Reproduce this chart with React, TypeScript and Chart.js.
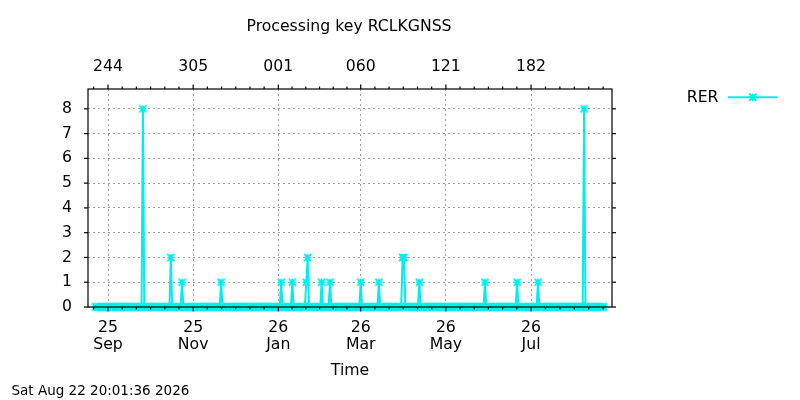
import React, { useEffect, useRef } from 'react';
import { Chart, registerables } from 'chart.js';

Chart.register(...registerables);

// ---- data ----
const titleText = 'Processing key RCLKGNSS';
const seriesLabel = 'RER';
const xAxisTitle = 'Time';
const stampText = 'Sat Aug 22 20:01:36 2026';

const firstDay = '2025-08-23';
const lastDay = '2026-08-22';
const eventDates = [
  '2025-09-26', '2025-10-16', '2025-10-24', '2025-11-21',
  '2026-01-03', '2026-01-11', '2026-01-21', '2026-01-22',
  '2026-02-01', '2026-02-07', '2026-03-01', '2026-03-14',
  '2026-03-31', '2026-04-01', '2026-04-12', '2026-05-29',
  '2026-06-21', '2026-07-06', '2026-08-08',
];
const eventValues = [8, 2, 1, 1, 1, 1, 1, 2, 1, 1, 1, 1, 2, 2, 1, 1, 1, 1, 8];

const axisStart = '2025-08-17T16:00:00Z';
const axisEnd = '2026-08-28T00:00:00Z';
const tickDates = ['2025-09-01', '2025-11-01', '2026-01-01', '2026-03-01', '2026-05-01', '2026-07-01'];
const bottomTickLabels = [['25', 'Sep'], ['25', 'Nov'], ['26', 'Jan'], ['26', 'Mar'], ['26', 'May'], ['26', 'Jul']];
const topTickLabels = ['244', '305', '001', '060', '121', '182'];
const minorAnchorDates = ['2025-07-01', ...tickDates, '2026-09-01'];
const yTickValues = [0, 1, 2, 3, 4, 5, 6, 7, 8];
const yMax = 8.8;

// ---- styles ----
const CYAN = '#00eeee';
const FONT = 'DejaVu Sans';

const toMs = (d: string) => Date.parse(d.length === 10 ? d + 'T00:00:00Z' : d);
const DAY = 86400000;

function buildSeries() {
  const ev = new Map<number, number>();
  eventDates.forEach((d, i) => ev.set(toMs(d), eventValues[i]));
  const pts: { x: number; y: number }[] = [];
  for (let t = toMs(firstDay); t <= toMs(lastDay); t += DAY) {
    pts.push({ x: t, y: ev.has(t) ? (ev.get(t) as number) : 0 });
  }
  return pts;
}

// gnuplot-like "+ and x" star marker filling a square
function drawStar(ctx: CanvasRenderingContext2D, x: number, y: number, r: number) {
  ctx.beginPath();
  ctx.moveTo(x - r, y); ctx.lineTo(x + r, y);
  ctx.moveTo(x, y - r); ctx.lineTo(x, y + r);
  ctx.moveTo(x - r, y - r); ctx.lineTo(x + r, y + r);
  ctx.moveTo(x - r, y + r); ctx.lineTo(x + r, y - r);
  ctx.stroke();
}

function makeMarker() {
  const c = document.createElement('canvas');
  c.width = 11;
  c.height = 11;
  const g = c.getContext('2d') as CanvasRenderingContext2D;
  g.strokeStyle = CYAN;
  g.lineWidth = 1.7;
  drawStar(g, 5.5, 5.5, 3.6);
  return c;
}

const decorPlugin = {
  id: 'decor',
  afterDatasetsDraw(chart: any) {
    const { ctx, chartArea: a, scales } = chart;
    const xs = scales.x;
    const ys = scales.y;
    ctx.save();
    ctx.strokeStyle = '#000';
    ctx.lineWidth = 1.2;
    const seg = (x1: number, y1: number, x2: number, y2: number) => {
      ctx.beginPath(); ctx.moveTo(x1, y1); ctx.lineTo(x2, y2); ctx.stroke();
    };
    ctx.strokeRect(a.left, a.top, a.right - a.left, a.bottom - a.top);
    yTickValues.forEach((v) => {
      const py = ys.getPixelForValue(v);
      seg(a.left - 4, py, a.left, py);
      seg(a.right, py, a.right + 4, py);
    });
    tickDates.forEach((d) => {
      const px = xs.getPixelForValue(toMs(d));
      seg(px, a.bottom, px, a.bottom + 4.5);
      seg(px, a.top - 4.5, px, a.top);
    });
    for (let i = 0; i < minorAnchorDates.length - 1; i++) {
      const t0 = toMs(minorAnchorDates[i]);
      const t1 = toMs(minorAnchorDates[i + 1]);
      for (let j = 1; j < 6; j++) {
        const t = t0 + ((t1 - t0) * j) / 6;
        if (t <= xs.min || t >= xs.max) continue;
        const px = xs.getPixelForValue(t);
        seg(px, a.bottom, px, a.bottom + 2.5);
        seg(px, a.top - 2.5, px, a.top);
      }
    }
    // texts
    ctx.fillStyle = '#000';
    ctx.textBaseline = 'alphabetic';
    ctx.font = `15.7px "${FONT}"`;
    ctx.textAlign = 'center';
    ctx.fillText(titleText, (a.left + a.right) / 2 - 1, 30.5);
    ctx.fillText(xAxisTitle, (a.left + a.right) / 2, 375);
    ctx.textAlign = 'right';
    ctx.fillText(seriesLabel, 718.5, 101.7);
    ctx.textAlign = 'left';
    ctx.font = `13.5px "${FONT}"`;
    ctx.fillText(stampText, 11.5, 394.5);
    // legend sample
    ctx.strokeStyle = CYAN;
    ctx.lineWidth = 2;
    seg(728, 97.3, 777.5, 97.3);
    ctx.lineWidth = 1.7;
    drawStar(ctx, 752.7, 97.3, 3.6);
    ctx.restore();
  },
};

export default function App() {
  const ref = useRef<HTMLCanvasElement>(null);
  useEffect(() => {
    const tickVals = tickDates.map(toMs);
    const marker = makeMarker();
    const chart = new Chart(ref.current as HTMLCanvasElement, {
      type: 'line',
      data: {
        datasets: [
          {
            label: seriesLabel,
            data: buildSeries(),
            borderColor: CYAN,
            backgroundColor: CYAN,
            borderWidth: 2,
            pointStyle: marker,
            pointRadius: 4,
            pointBorderWidth: 0,
            tension: 0,
            clip: false,
          } as any,
        ],
      },
      options: {
        responsive: false,
        animation: false,
        events: [],
        layout: { padding: { left: 0, right: 188, top: 0, bottom: 0 } },
        plugins: { legend: { display: false }, tooltip: { enabled: false }, title: { display: false } },
        scales: {
          x: {
            type: 'linear',
            position: 'bottom',
            min: toMs(axisStart),
            max: toMs(axisEnd),
            afterBuildTicks: (s: any) => { s.ticks = tickVals.map((v) => ({ value: v })); },
            afterFit: (s: any) => { s.height = 93; },
            ticks: {
              autoSkip: false,
              maxRotation: 0,
              minRotation: 0,
              padding: 12.5,
              color: '#000',
              font: { family: FONT, size: 15.7, lineHeight: 1.08 },
              callback: (_v: any, i: number) => bottomTickLabels[i],
            },
            grid: { color: '#a0a0a0', lineWidth: 1, drawTicks: false },
            border: { display: false, dash: [2, 3] },
          },
          x2: {
            type: 'linear',
            position: 'top',
            min: toMs(axisStart),
            max: toMs(axisEnd),
            afterBuildTicks: (s: any) => { s.ticks = tickVals.map((v) => ({ value: v })); },
            afterFit: (s: any) => { s.height = 89; },
            ticks: {
              autoSkip: false,
              maxRotation: 0,
              minRotation: 0,
              padding: 13,
              color: '#000',
              font: { family: FONT, size: 15.7, lineHeight: 1.2 },
              callback: (_v: any, i: number) => topTickLabels[i],
            },
            grid: { display: false, drawTicks: false },
            border: { display: false },
          },
          y: {
            type: 'linear',
            position: 'left',
            min: 0,
            max: yMax,
            afterBuildTicks: (s: any) => { s.ticks = yTickValues.map((v) => ({ value: v })); },
            afterFit: (s: any) => { s.width = 88; },
            ticks: {
              padding: 16,
              color: '#000',
              font: { family: FONT, size: 15.7 },
              callback: (v: any) => String(v),
            },
            grid: { color: '#a0a0a0', lineWidth: 1, drawTicks: false },
            border: { display: false, dash: [2, 3] },
          },
        },
      } as any,
      plugins: [decorPlugin],
    });
    return () => chart.destroy();
  }, []);
  return (
    <div style={{ position: 'absolute', left: 0, top: 0, width: 800, height: 400, background: '#fff' }}>
      <canvas ref={ref} width={800} height={400} style={{ width: 800, height: 400, display: 'block' }} />
    </div>
  );
}
